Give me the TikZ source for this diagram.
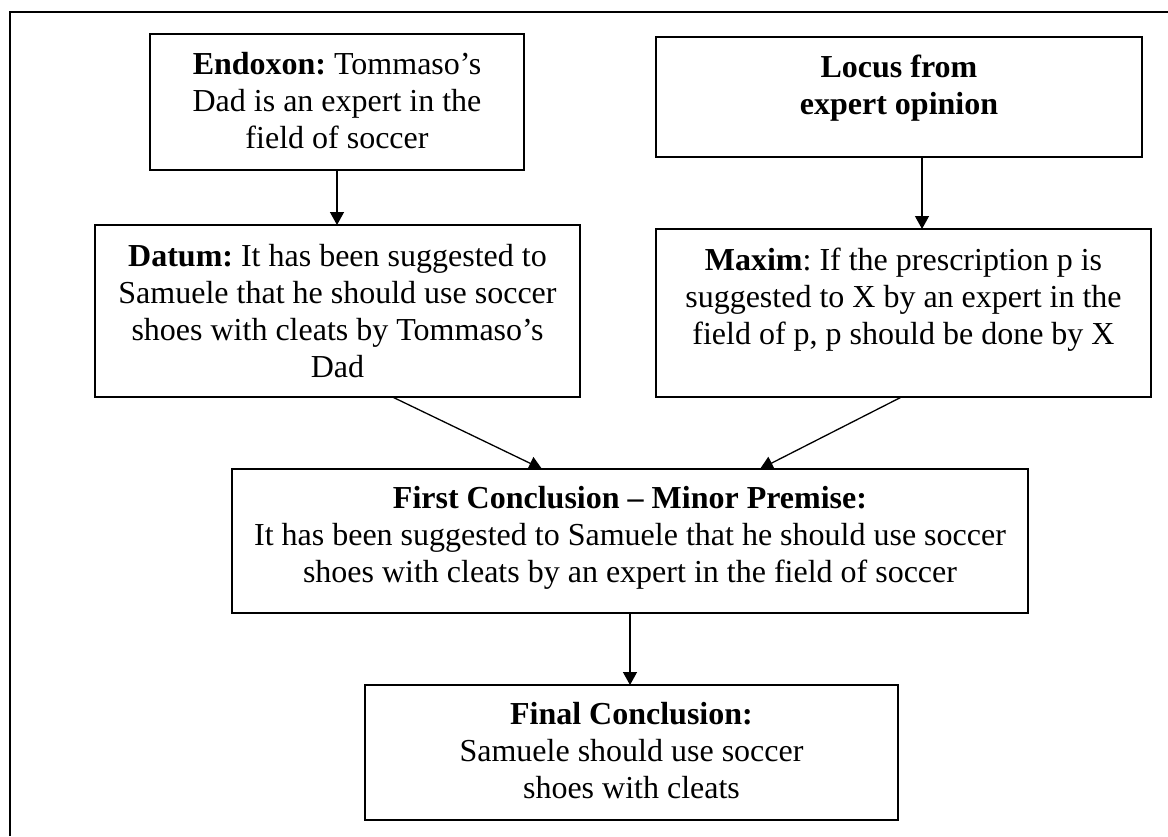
\documentclass[tikz,border=0pt]{standalone}
\usepackage{fontspec}
\setmainfont{Liberation Serif}
\usetikzlibrary{arrows.meta}
\begin{document}
\begin{tikzpicture}[x=1pt,y=-1pt,
  box/.style={draw, line width=1.8pt, inner sep=0pt, outer sep=0pt, anchor=north west},
  txt/.style={anchor=north, inner sep=0pt, align=center, font=\fontsize{32}{37}\selectfont\frenchspacing},
  arr/.style={line width=1.3pt, -{Triangle[length=13pt,width=14pt]}}]
\useasboundingbox (0,0) rectangle (1168,836);
\draw[line width=2.2pt] (10,836) -- (10,12) -- (1168,12);
% boxes
\node[box, minimum width=374pt, minimum height=136pt] (endoxon) at (150,34) {};
\node[box, minimum width=486pt, minimum height=120pt] (locus) at (656,37) {};
\node[box, minimum width=485pt, minimum height=172pt] (datum) at (95,225) {};
\node[box, minimum width=495pt, minimum height=168pt] (maxim) at (656,229) {};
\node[box, minimum width=796pt, minimum height=144pt] (first) at (232,469) {};
\node[box, minimum width=533pt, minimum height=135pt] (final) at (365,685) {};
% texts
\node[txt] (endoxonT) at ([yshift=-18pt]endoxon.north) {\textbf{Endoxon:} Tommaso’s\\Dad is an expert in the\\field of soccer};
\node[txt] (locusT) at ([yshift=-18pt]locus.north) {\textbf{Locus from}\\\textbf{expert opinion}};
\node[txt] (datumT) at ([yshift=-19pt]datum.north) {\textbf{Datum:} It has been suggested to\\Samuele that he should use soccer\\shoes with cleats by Tommaso’s\\Dad};
\node[txt] (maximT) at ([yshift=-19pt]maxim.north) {\textbf{Maxim}: If the prescription p is\\suggested to X by an expert in the\\field of p, p should be done by X};
\node[txt] (firstT) at ([yshift=-17pt]first.north) {\textbf{First Conclusion – Minor Premise:}\\It has been suggested to Samuele that he should use soccer\\shoes with cleats by an expert in the field of soccer};
\node[txt] (finalT) at ([yshift=-17pt]final.north) {\textbf{Final Conclusion:}\\Samuele should use soccer\\shoes with cleats};
% connectors
\draw[arr] (endoxon.south) -- (endoxon.south |- datum.north);
\draw[arr] ([xshift=23pt]locus.south) -- ([xshift=23pt]locus.south |- maxim.north);
\draw[arr] ([xshift=55pt]datum.south) -- ([xshift=-88pt]first.north);
\draw[arr] ([xshift=-2pt]maxim.south) -- ([xshift=130pt]first.north);
\draw[arr] (first.south) -- (first.south |- final.north);
\end{tikzpicture}
\end{document}
